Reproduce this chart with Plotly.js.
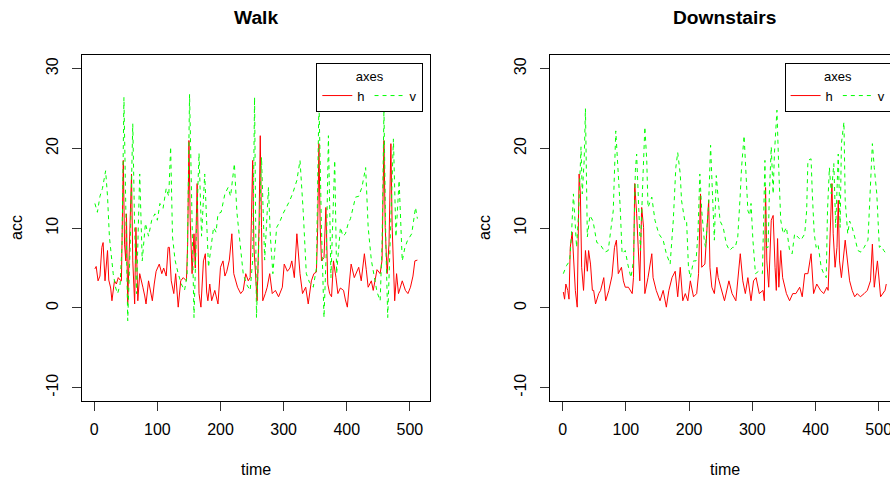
<!DOCTYPE html>
<html>
<head>
<meta charset="utf-8">
<script src="https://cdn.plot.ly/plotly-3.0.1.min.js"></script>
<style>
html,body{margin:0;padding:0;overflow:hidden;background:#fff;}
#chart{width:902px;height:479px;}
</style>
</head>
<body>
<div id="chart"></div>
<script>
// ---------- data ----------
const panelTitles = ["Walk", "Downstairs"];
const seriesNames = ["h", "v"];
const xTicks = [0, 100, 200, 300, 400, 500];
const yTicks = [-10, 0, 10, 20, 30];

// Walk - h (horizontal acceleration)
const walkHTime = [1,3,6,9,12,14,17,19,21,23,26,28,30,32,35,38,41,43,46,48,50,51,53,56,59,61,64,66,69,72,75,77,80,82,86,89,92,95,98,103,107,110,114,117,119,122,126,129,133,137,141,146,148,150,152,155,158,160,163,166,169,173,176,178,180,183,186,191,196,200,204,207,210,214,218,221,227,232,236,240,244,247,251,253,256,258,261,263,265,267,271,274,278,282,287,292,298,301,306,310,313,317,321,326,330,335,339,344,348,352,354,356,358,360,364,367,370,373,376,379,383,386,390,395,398,401,404,407,412,416,419,423,428,431,434,439,442,448,453,456,459,461,464,467,470,472,476,479,482,488,493,497,501,505,508,512];
const walkH = [4.9,5.2,3.4,4,7.6,8.2,3.4,5,7.2,3.5,2.5,0.9,2.5,3.4,3,3.8,3.5,3.4,18.5,8,5.9,11.8,0.5,7.6,16.8,5.9,0.5,10.1,0.9,4.3,3,2.6,1.5,0.5,3.4,2,0.9,3,4.6,5.5,4.3,5,4,7.6,7.6,3.4,1.8,4.3,0.1,3.4,3.8,3.4,8,21,11,4.3,9.3,5,15.6,1.8,0.1,5.9,6.8,2,0.9,3,0.9,2.2,0.5,5.1,5.9,4,4.6,6,9.3,4.3,2.6,1.8,2.2,4.3,3.4,3.8,18.5,7.6,4.3,0.9,10,21.6,10.1,0.9,1.8,2.6,4.3,1.8,2.2,1.4,2.6,5.5,4.6,5,5.9,3.8,9.3,4.3,1.8,2.6,0.5,3.4,4.3,4.5,10,20.6,10.1,5.9,6.3,12.6,3,1.8,1.4,5.9,3.8,1.8,2.5,2.2,1,0.1,3,5.5,3.8,4.5,5.1,3.4,6.8,4.8,2.6,3.4,2.2,4.8,4.3,6,21,10.1,4.3,8,20.6,10.1,0.9,4.3,1.8,3.4,2.2,1.8,2.6,4,5.9,6];

// Walk - v (vertical acceleration)
const walkVTime = [1,5,9,13,18,21,24,30,34,37,41,44,47,50,53,57,61,64,67,72,76,81,86,91,96,100,104,109,114,118,121,124,128,133,138,143,147,151,155,158,162,166,170,175,181,185,189,193,196,201,207,212,216,222,226,231,236,241,247,251,254,257,261,265,270,276,279,283,289,294,299,304,310,315,321,326,331,336,341,347,352,356,360,364,368,371,375,381,384,390,394,398,402,406,410,414,419,424,430,434,439,443,448,453,456,459,462,465,469,474,478,483,488,492,496,503,509,512];
const walkV = [13.1,12,14,15,17.2,14,8.9,4.3,2.5,1.8,3,8,26.4,10,-1.6,8,23.1,10,1.8,16.8,5.9,10.6,9,11,11.8,11,13.1,12.5,15,14,20.2,8.9,6,4.3,3,2.2,4,26.8,8,-1.2,10,19.4,9,16.8,5.1,8,10.1,9.5,11.8,12,14.3,15.1,14,18.1,12,8.1,4.3,3,2.2,6,26.4,-1.2,10,18.9,6,15.1,9,4.3,10.1,10.8,11.8,12.5,13.5,14.5,16,18.5,12.2,4.3,3.2,2.6,5,26,10,-1.2,8,21.6,3.8,18.5,4.3,10.1,9,9.3,10.5,11.2,12.5,13.9,14,15.1,17.6,10.1,6,4.3,2,0.9,8,25,8,-1.2,10,21.2,8.9,16,5.9,7.5,8.4,9.3,12.6,11.2];

// Downstairs - h
const downHTime = [1,3,5,8,10,12,15,18,20,23,26,28,30,33,36,39,41,44,47,49,52,57,60,65,68,73,78,82,85,88,93,96,99,104,110,112,114,117,120,122,125,128,130,135,141,143,148,154,159,164,168,173,178,182,186,190,194,198,202,207,212,215,218,220,225,228,231,233,236,240,244,246,252,256,263,268,274,278,281,285,289,293,298,302,306,311,317,319,321,323,326,330,333,336,338,340,342,345,348,354,359,364,369,375,379,383,388,393,397,402,408,413,418,420,423,426,428,431,434,436,438,441,447,450,454,458,462,466,471,477,482,487,490,493,498,503,506,510,512];
const downH = [2.0,1.1,3.0,2.2,1.1,7.6,9.5,5.9,2.2,0.1,16.8,14.3,5.1,2.2,7.2,4.6,7.2,5.5,2.2,2.2,0.5,1.8,2.2,3.8,0.9,2.2,4.0,7.6,8.5,4.3,5.1,3.4,2.6,2.6,1.8,3.8,15.6,11.8,5.9,3.4,12.6,10.1,1.8,3.8,6.8,3.8,2.2,0.9,2.2,0.1,2.2,3.8,4.6,1.4,5.1,0.9,1.8,0.9,3.4,1.4,1.8,4.3,14.3,5.1,5.5,10.1,13.5,5.1,2.6,1.8,5.1,3.8,2.2,0.9,3.4,1.8,0.9,3.8,6.8,3.4,1.8,3.8,0.9,3.4,3.8,1.8,2.2,0.9,15.1,5.9,2.6,11,11.6,5.1,2.2,8.7,2.6,7.2,3.8,1.8,0.9,1.8,1.8,2.6,1.4,4.3,4.3,6.8,1.8,3.0,2.2,1.8,2.6,2.2,9.3,15.6,9.3,5.1,7.6,13.5,5.9,3.8,8.5,5.9,3.4,2.2,1.4,1.8,1.4,1.8,2.2,3.4,8.0,2.6,5.9,1.4,1.8,2.2,3.0];

// Downstairs - v
const downVTime = [1,6,11,14,17,19,22,25,27,29,31,34,36,39,43,48,54,59,63,67,72,77,80,84,87,91,94,99,103,108,112,115,117,120,123,127,130,133,135,141,146,152,159,164,170,175,179,182,186,188,193,196,199,202,207,211,214,217,220,224,226,231,234,237,240,243,246,249,254,259,264,269,273,277,281,283,287,290,293,296,298,301,305,310,316,320,322,325,327,330,333,335,339,342,345,349,354,359,363,367,372,377,383,386,388,393,395,398,401,404,409,413,417,419,422,425,429,432,436,439,441,445,447,451,454,458,462,467,472,477,483,486,490,493,497,501,504,508,512];
const downV = [4.3,5.3,5.9,9.3,14.3,11.6,7.6,11.6,16.8,20.2,14.3,18.5,25,8.9,11.6,10.9,8.2,8.0,7.5,7,7.2,10.1,12.2,22.2,18.5,12.6,6.8,7.2,5.5,3.8,5.9,17.2,19.3,13.1,7.2,16.4,22.7,18.5,12.6,13.9,11,9.3,8.5,6.8,5.5,11,17.6,19.5,16.8,13.5,11,11,5.1,3.8,5.9,5.9,9.3,16.8,12.2,8.5,7.6,13.1,20.4,14.3,8.5,16.6,13.5,10.9,10.1,8.0,7.2,7.6,7.6,8.9,14.3,17.6,21.6,17.6,12.2,11.6,13.1,8.5,4.3,4.6,4.3,18.5,7.6,7.6,14.3,20.2,14.3,19.3,24.8,17.2,11,9.3,10.1,7.2,6.8,9.3,8.9,8.5,9.3,12.2,18.5,18.7,14.3,9.3,7.6,8,5.1,4.3,3.8,12.2,17.6,14.3,18.1,10.1,19.3,10.1,20.6,23.3,13.5,9.3,10.9,10.1,8.9,7.2,7,7.6,8.5,14.7,20.6,17.6,14.3,7.6,7.8,7.2,6.8];

// ---------- layout helpers ----------
const W = 902, H = 479;
const FONT = "Liberation Sans, Arial, Helvetica, sans-serif";
const px = v => v / W;
const py = v => 1 - v / H;

const hColor = "#FF0000", vColor = "#00FF00";

function trace(x, y, name, color, dash, xa, ya, leg, show) {
  return {
    type: "scatter", mode: "lines", x: x, y: y, name: name,
    xaxis: xa, yaxis: ya, legend: leg, showlegend: show,
    line: {color: color, width: 1, dash: dash}
  };
}

const data = [
  trace(walkHTime, walkH, seriesNames[0], hColor, "solid", "x", "y", "legend", true),
  trace(walkVTime, walkV, seriesNames[1], vColor, "4px,4px", "x", "y", "legend", true),
  trace(downHTime, downH, seriesNames[0], hColor, "solid", "x2", "y2", "legend2", true),
  trace(downVTime, downV, seriesNames[1], vColor, "4px,4px", "x2", "y2", "legend2", true)
];

function xaxis(d0, d1, anchor) {
  return {
    domain: [px(d0), px(d1)], anchor: anchor, range: [-19.44, 532.44],
    tickmode: "array", tickvals: xTicks, ticktext: xTicks.map(String),
    ticks: "outside", ticklen: 9, tickwidth: 1, tickcolor: "#333",
    showline: true, mirror: true, linecolor: "#000", linewidth: 1,
    showgrid: false, zeroline: false,
    tickfont: {family: FONT, size: 16, color: "#000"}, ticklabelstandoff: 5
  };
}
function yaxis(anchor) {
  return {
    domain: [py(400.7), py(55.3)], anchor: anchor, range: [-11.63, 31.68],
    tickmode: "array", tickvals: yTicks, ticktext: yTicks.map(String),
    ticks: "outside", ticklen: 9, tickwidth: 1, tickcolor: "#333",
    showline: true, mirror: true, linecolor: "#000", linewidth: 1,
    showgrid: false, zeroline: false, tickangle: -90,
    tickfont: {family: FONT, size: 16, color: "#000"}, ticklabelstandoff: 8
  };
}
function legend(right) {
  return {
    x: px(right), xanchor: "right", y: py(62.7), yanchor: "top",
    orientation: "h", bgcolor: "#fff", bordercolor: "#000", borderwidth: 1,
    font: {family: FONT, size: 13, color: "#000"},
    title: {text: "axes", side: "top center", font: {family: FONT, size: 13, color: "#000"}},
    itemwidth: 30, tracegroupgap: 0
  };
}
function ann(text, x, y, size, bold, angle) {
  return {
    text: bold ? "<b>" + text + "</b>" : text, xref: "paper", yref: "paper",
    x: px(x), y: py(y), xanchor: "center", yanchor: "middle", showarrow: false,
    textangle: angle || 0, font: {family: FONT, size: size, color: "#000"}
  };
}

const layout = {
  width: W, height: H, autosize: false,
  margin: {l: 0, r: 0, t: 0, b: 0, pad: 0},
  paper_bgcolor: "#fff", plot_bgcolor: "#fff",
  xaxis: xaxis(82.0, 430.3, "y"),
  yaxis: yaxis("x"),
  xaxis2: xaxis(550.4, 899.2, "y2"),
  yaxis2: yaxis("x2"),
  legend: legend(423.3),
  legend2: legend(891.6),
  annotations: [
    ann(panelTitles[0], 256, 17, 19.2, true),
    ann(panelTitles[1], 724, 17, 19.2, true),
    ann("time", 256, 469, 16, false),
    ann("time", 724.5, 469, 16, false),
    ann("acc", 17, 228, 16, false, -90),
    ann("acc", 485, 228, 16, false, -90)
  ]
};

Plotly.newPlot("chart", data, layout, {staticPlot: true, displayModeBar: false});
</script>
</body>
</html>
